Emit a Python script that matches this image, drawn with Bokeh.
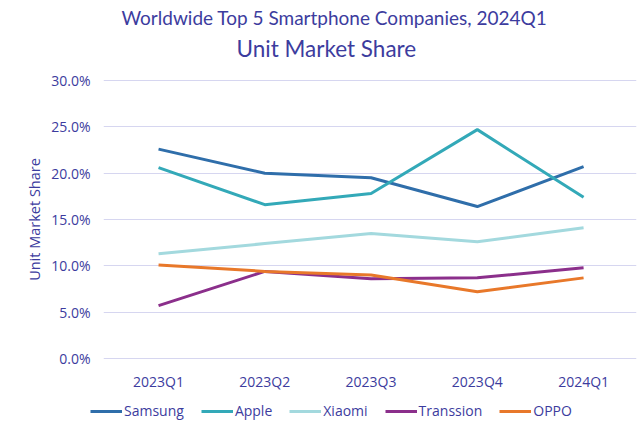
from bokeh.plotting import figure
from bokeh.layouts import column
from bokeh.models import Range1d, Title, Legend, LegendItem, FixedTicker
from bokeh.embed import file_html
from bokeh.resources import INLINE

quarters = ["2023Q1", "2023Q2", "2023Q3", "2023Q4", "2024Q1"]
samsung = [22.6, 20.0, 19.5, 16.4, 20.7]
apple = [20.6, 16.6, 17.8, 24.7, 17.4]
xiaomi = [11.3, 12.4, 13.5, 12.6, 14.1]
transsion = [5.7, 9.4, 8.6, 8.7, 9.8]
oppo = [10.1, 9.4, 9.0, 7.2, 8.7]
y_ticks = [0, 5, 10, 15, 20, 25, 30]

series = [
    ("Samsung", samsung, "#2f6eaa"),
    ("Apple", apple, "#33a9b8"),
    ("Xiaomi", xiaomi, "#a3d9de"),
    ("Transsion", transsion, "#8b2f8b"),
    ("OPPO", oppo, "#e8782a"),
]

TXT = "#3c3c9e"
TFONT = "Lato"
FONT = "Open Sans"

p = figure(width=637, height=396, output_backend="svg", toolbar_location=None,
           x_range=Range1d(-0.518, 4.498), y_range=Range1d(-0.22, 30.22),
           min_border_left=103, min_border_right=1, min_border_bottom=36, min_border_top=78)
p.outline_line_color = None
p.background_fill_color = "white"
p.border_fill_color = "white"
p.frame_align = False

gap = Title(text=" ", text_font=TFONT, text_font_size="1px", standoff=13.9)
sub = Title(text="Unit Market Share", align="left", offset=133, text_font=TFONT,
            text_font_size="22.5px", text_color=TXT, text_font_style="normal", standoff=0)
main = Title(text="Worldwide Top 5 Smartphone Companies, 2024Q1", align="left", offset=18,
             text_font=TFONT, text_font_size="19px", text_color=TXT, text_font_style="normal",
             standoff=6.2)
p.add_layout(gap, "above")
p.add_layout(sub, "above")
p.add_layout(main, "above")

xs = list(range(len(quarters)))
for name, vals, col in series:
    p.line(xs, vals, line_color=col, line_width=3)

p.xaxis.ticker = FixedTicker(ticks=xs)
p.xaxis.major_label_overrides = {i: q for i, q in enumerate(quarters)}
p.yaxis.ticker = FixedTicker(ticks=y_ticks)
p.yaxis.major_label_overrides = {t: f"{t:.1f}%" for t in y_ticks}
p.yaxis.axis_label = "Unit Market Share"
p.yaxis.axis_label_text_font = FONT
p.yaxis.axis_label_text_font_size = "14.5px"
p.yaxis.axis_label_text_font_style = "normal"
p.yaxis.axis_label_text_color = TXT
p.yaxis.axis_label_standoff = 4

for ax in (p.xaxis, p.yaxis):
    ax.axis_line_color = None
    ax.major_tick_line_color = None
    ax.minor_tick_line_color = None
    ax.major_tick_out = 0
    ax.major_tick_in = 0
    ax.major_label_text_font = FONT
    ax.major_label_text_color = TXT
    ax.major_label_text_font_size = "14px"
p.yaxis.major_label_standoff = 13
p.xaxis.major_label_standoff = 11

p.xgrid.grid_line_color = None
p.ygrid.grid_line_color = "#d6d6f0"
p.ygrid.grid_line_width = 1.2

# legend strip below the chart
lg = figure(width=637, height=30, output_backend="svg", toolbar_location=None,
            x_axis_type=None, y_axis_type=None, x_range=Range1d(0, 1), y_range=Range1d(0, 1),
            min_border_left=0, min_border_right=0, min_border_top=0, min_border_bottom=0)
lg.outline_line_color = None
lg.xgrid.visible = False
lg.ygrid.visible = False
lg.frame_align = False
items = []
for name, vals, col in series:
    r = lg.line(xs, vals, line_color=col, line_width=3, visible=False)
    items.append(LegendItem(label=name, renderers=[r]))
legend = Legend(items=items, orientation="horizontal", location=(90, 6),
                glyph_width=32, glyph_height=18, label_height=18, label_standoff=2, spacing=17,
                padding=0, margin=0, border_line_color=None, background_fill_alpha=0,
                label_text_font=FONT, label_text_font_size="14px", label_text_color=TXT)
lg.add_layout(legend, "center")

layout = column(p, lg, spacing=0)
open("out.html", "w").write(file_html(layout, INLINE))
